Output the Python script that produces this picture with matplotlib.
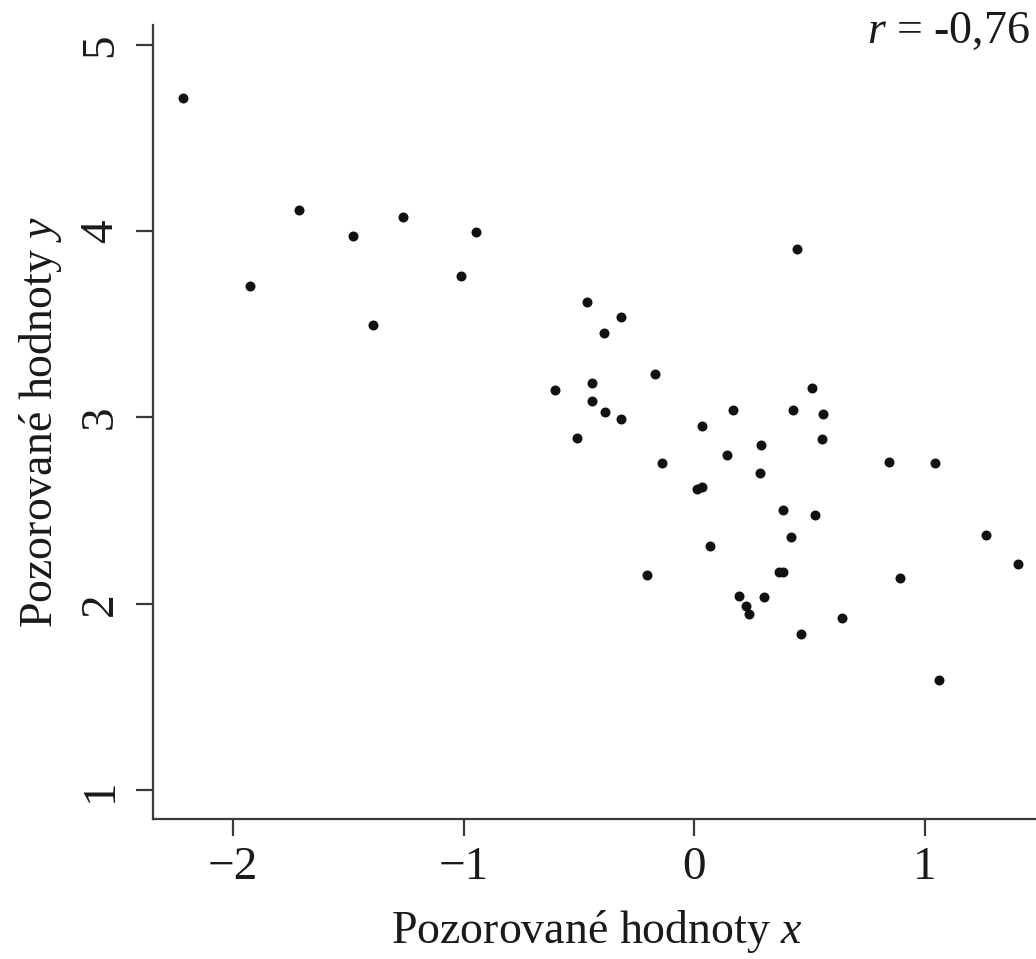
import matplotlib
matplotlib.use("Agg")
import matplotlib.pyplot as plt

plt.rcParams['font.family'] = ['Liberation Serif', 'DejaVu Serif']
plt.rcParams['mathtext.fontset'] = 'custom'
plt.rcParams['mathtext.rm'] = 'Liberation Serif'
plt.rcParams['mathtext.it'] = 'Liberation Serif:italic'

x_vals = [-2.217, -1.926, -1.713, -1.479, -1.393, -1.263, -1.011, -0.946,
          -0.605, -0.466, -0.445, -0.445, -0.509, -0.392, -0.388, -0.318,
          -0.318, -0.171, -0.140, -0.205, 0.033, 0.012, 0.032, 0.068,
          0.166, 0.509, 0.428, 0.558, 0.554, 0.290, 0.140, 0.283,
          0.386, 0.523, 0.419, 0.366, 0.383, 0.192, 0.301, 0.223,
          0.238, 0.461, 0.639, 0.844, 1.042, 1.263, 1.403, 0.889,
          1.061, 0.444]
y_vals = [4.715, 3.706, 4.114, 3.974, 3.497, 4.077, 3.760, 3.996,
          3.148, 3.620, 3.185, 3.089, 2.890, 3.454, 3.030, 3.540,
          2.992, 3.234, 2.756, 2.154, 2.954, 2.616, 2.629, 2.310,
          3.042, 3.157, 3.039, 3.021, 2.885, 2.851, 2.800, 2.704,
          2.503, 2.477, 2.360, 2.172, 2.172, 2.042, 2.036, 1.988,
          1.945, 1.839, 1.923, 2.763, 2.754, 2.369, 2.212, 2.138,
          1.589, 3.905]
x_ticks = [-2, -1, 0, 1]
y_ticks = [1, 2, 3, 4, 5]
x_label = r'Pozorované hodnoty $x$'
y_label = r'Pozorované hodnoty $y$'
r_text = r'$r$ = -0,76'

W, H = 1036, 959
fig = plt.figure(figsize=(W / 100, H / 100), dpi=100)
left, right, top, bottom = 153, 1040, 25, 819
ax = fig.add_axes([left / W, (H - bottom) / H, (right - left) / W, (bottom - top) / H])

ax.plot(x_vals, y_vals, 'o', color='#111111', ms=7.2, mew=0)

ax.set_xlim(-2.347, 1.498)
ax.set_ylim(0.844, 5.107)
ax.set_xticks(x_ticks)
ax.set_yticks(y_ticks)
ax.set_xticklabels([f'{t}'.replace('-', '\u2212') for t in x_ticks])
ax.set_yticklabels([str(t) for t in y_ticks])

for s in ['top', 'right']:
    ax.spines[s].set_visible(False)
for s in ['left', 'bottom']:
    ax.spines[s].set_color('#3a3a3a')
    ax.spines[s].set_linewidth(1.6)

ax.tick_params(axis='both', direction='out', length=12.5, width=1.6,
               color='#3a3a3a', labelsize=34, labelcolor='#1a1a1a')
ax.tick_params(axis='x', pad=7)
ax.tick_params(axis='y', pad=10)
for lab in ax.get_yticklabels():
    lab.set_rotation(90)
    lab.set_va('center')

ax.set_xlabel(x_label, fontsize=33, color='#1a1a1a', labelpad=14)
ax.set_ylabel(y_label, fontsize=33, color='#1a1a1a', labelpad=11)

fig.text(1030 / W, 1 - 32 / H, r_text, ha='right', va='center',
         fontsize=33, color='#1a1a1a')

fig.savefig('out.png', dpi=100)
